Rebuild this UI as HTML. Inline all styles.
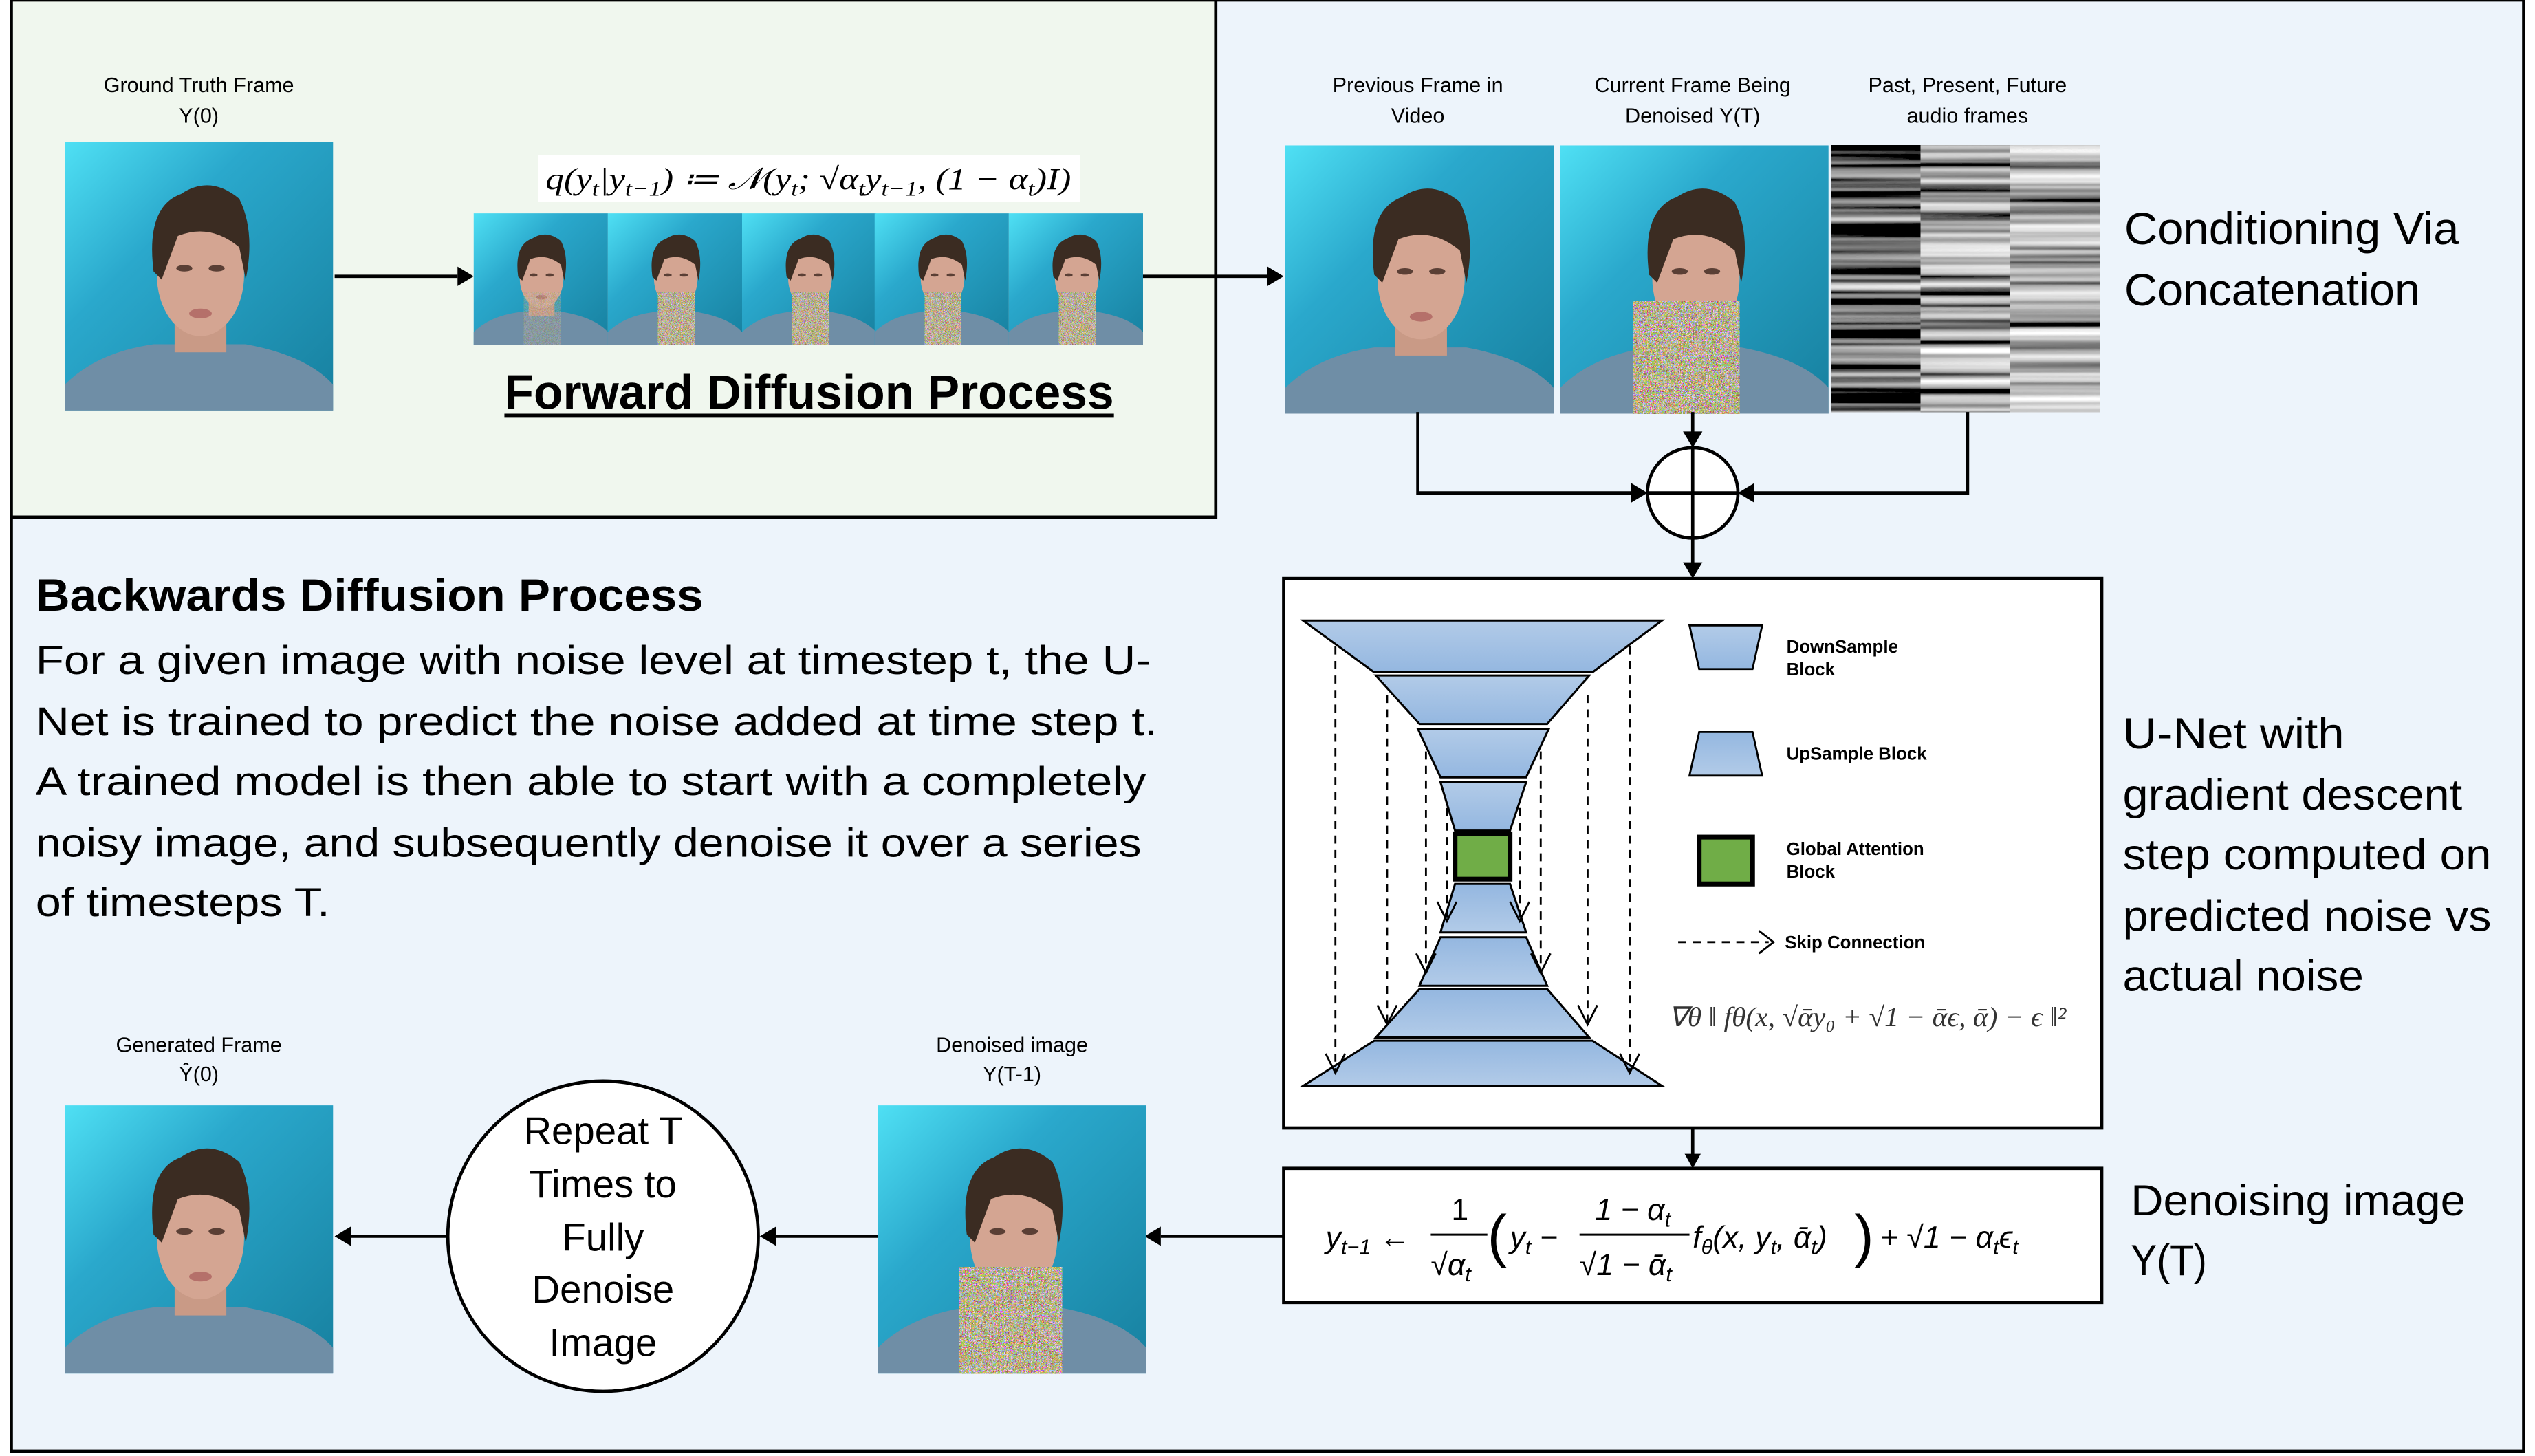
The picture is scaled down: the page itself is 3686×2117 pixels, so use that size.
<!DOCTYPE html>
<html><head><meta charset="utf-8"><style>
html,body{margin:0;padding:0;background:#fff;}
svg{display:block;}
text{font-family:"Liberation Sans",sans-serif;}
.c{font-family:"Liberation Sans","DejaVu Sans",sans-serif;}
.m{font-family:"Liberation Serif",serif;font-style:italic;}
</style></head><body>
<svg width="3686" height="2117" viewBox="0 0 1568 901" preserveAspectRatio="none" xmlns="http://www.w3.org/2000/svg">
<defs>
<linearGradient id="bg" x1="0" y1="0" x2="1" y2="1">
<stop offset="0" stop-color="#4fe0f4"/><stop offset="0.35" stop-color="#2aa8cc"/><stop offset="1" stop-color="#17809f"/></linearGradient>
<linearGradient id="blk" x1="0" y1="0" x2="0" y2="1">
<stop offset="0" stop-color="#b2cbe8"/><stop offset="1" stop-color="#94b7e0"/></linearGradient>
<linearGradient id="blk2" x1="0" y1="0" x2="0" y2="1">
<stop offset="0" stop-color="#94b7e0"/><stop offset="1" stop-color="#b2cbe8"/></linearGradient>
<filter id="noise" x="0" y="0" width="100%" height="100%">
<feTurbulence type="fractalNoise" baseFrequency="1.2" numOctaves="1" seed="3"/>
<feComponentTransfer><feFuncR type="discrete" tableValues="0.1 1 0.3 0.9 0.6"/><feFuncG type="discrete" tableValues="0.8 0.1 0.6 0.3 0.9"/><feFuncB type="discrete" tableValues="0.3 0.9 0.1 1 0.5"/><feFuncA type="linear" slope="0" intercept="1"/></feComponentTransfer>
</filter>
<filter id="a1" x="0" y="0" width="100%" height="100%">
<feTurbulence type="fractalNoise" baseFrequency="0.001 0.2" numOctaves="2" seed="7"/>
<feColorMatrix type="matrix" values="2 0 0 0 -0.85  2 0 0 0 -0.85  2 0 0 0 -0.85  0 0 0 0 1"/>
</filter>
<filter id="a2" x="0" y="0" width="100%" height="100%">
<feTurbulence type="fractalNoise" baseFrequency="0.001 0.2" numOctaves="2" seed="11"/>
<feColorMatrix type="matrix" values="2 0 0 0 -0.6  2 0 0 0 -0.6  2 0 0 0 -0.6  0 0 0 0 1"/>
</filter>
<filter id="a3" x="0" y="0" width="100%" height="100%">
<feTurbulence type="fractalNoise" baseFrequency="0.001 0.2" numOctaves="2" seed="19"/>
<feColorMatrix type="matrix" values="2 0 0 0 -0.5  2 0 0 0 -0.5  2 0 0 0 -0.5  0 0 0 0 1"/>
</filter>
<g id="face">
<rect x="0" y="0" width="166" height="166" fill="url(#bg)"/>
<path d="M0 166 L0 150 Q20 130 55 125 L112 125 Q150 132 166 150 L166 166 Z" fill="#6f8ea6"/>
<rect x="68" y="100" width="32" height="30" fill="#c99a86"/>
<ellipse cx="84" cy="82" rx="27" ry="38" fill="#d4a592"/>
<path d="M55 80 Q50 40 72 32 Q90 20 108 35 Q118 55 112 85 L108 65 Q90 50 70 58 L60 85 Z" fill="#3b2c22"/>
<ellipse cx="74" cy="78" rx="5" ry="2" fill="#5a3f35"/><ellipse cx="94" cy="78" rx="5" ry="2" fill="#5a3f35"/>
<ellipse cx="84" cy="106" rx="7" ry="3" fill="#b5706a"/>
</g>
</defs>
<rect x="7" y="0" width="1554" height="898" fill="#edf4fb" stroke="#000" stroke-width="2"/>
<rect x="7" y="0" width="745" height="320" fill="#f0f7ee" stroke="#000" stroke-width="2"/>

<text x="123" y="57" font-size="13" text-anchor="middle" class="c">Ground Truth Frame</text>
<text x="123" y="76" font-size="13" text-anchor="middle" class="c">Y(0)</text>
<g transform="translate(40,88)"><use href="#face"/></g>
<line x1="207" y1="171" x2="283" y2="171" stroke="#000" stroke-width="2"/><polygon points="283,165 293,171 283,177"/>
<rect x="333" y="96" width="335" height="29" fill="#fff"/>
<text x="500" y="117" font-size="19" text-anchor="middle" class="m" textLength="325" lengthAdjust="spacingAndGlyphs">q(y<tspan font-size="13" dy="4">t</tspan><tspan dy="-4">|y</tspan><tspan font-size="13" dy="4">t−1</tspan><tspan dy="-4">) ≔ 𝒩(y</tspan><tspan font-size="13" dy="4">t</tspan><tspan dy="-4">; √α</tspan><tspan font-size="13" dy="4">t</tspan><tspan dy="-4">y</tspan><tspan font-size="13" dy="4">t−1</tspan><tspan dy="-4">, (1 − α</tspan><tspan font-size="13" dy="4">t</tspan><tspan dy="-4">)I)</tspan></text>
<g transform="translate(293,132) scale(0.5,0.49)"><use href="#face"/><rect x="62" y="100" width="45" height="66" filter="url(#noise)" opacity="0.35"/></g>
<g transform="translate(376,132) scale(0.5,0.49)"><use href="#face"/><rect x="62" y="100" width="45" height="66" filter="url(#noise)"/></g>
<g transform="translate(459,132) scale(0.5,0.49)"><use href="#face"/><rect x="62" y="100" width="45" height="66" filter="url(#noise)"/></g>
<g transform="translate(541,132) scale(0.5,0.49)"><use href="#face"/><rect x="62" y="100" width="45" height="66" filter="url(#noise)"/></g>
<g transform="translate(624,132) scale(0.5,0.49)"><use href="#face"/><rect x="62" y="100" width="45" height="66" filter="url(#noise)"/></g>
<text x="312" y="253" font-size="30" font-weight="bold" class="c" textLength="377" lengthAdjust="spacingAndGlyphs">Forward Diffusion Process</text>
<rect x="312" y="256" width="377" height="2.5" fill="#000"/>
<line x1="707" y1="171" x2="784" y2="171" stroke="#000" stroke-width="2"/><polygon points="784,165 794,171 784,177"/>

<text x="877" y="57" font-size="13" text-anchor="middle" class="c">Previous Frame in</text>
<text x="877" y="76" font-size="13" text-anchor="middle" class="c">Video</text>
<text x="1047" y="57" font-size="13" text-anchor="middle" class="c">Current Frame Being</text>
<text x="1047" y="76" font-size="13" text-anchor="middle" class="c">Denoised Y(T)</text>
<text x="1217" y="57" font-size="13" text-anchor="middle" class="c">Past, Present, Future</text>
<text x="1217" y="76" font-size="13" text-anchor="middle" class="c">audio frames</text>
<g transform="translate(795,90)"><use href="#face"/></g>
<g transform="translate(965,90)"><use href="#face"/><rect x="45" y="96" width="66" height="70" filter="url(#noise)"/></g>
<rect x="1133" y="90" width="55" height="165" filter="url(#a1)"/>
<rect x="1188" y="90" width="55" height="165" filter="url(#a2)"/>
<rect x="1243" y="90" width="56" height="165" filter="url(#a3)"/>
<text x="1314" y="151" font-size="28" class="c" textLength="207" lengthAdjust="spacingAndGlyphs">Conditioning Via</text>
<text x="1314" y="189" font-size="28" class="c" textLength="183" lengthAdjust="spacingAndGlyphs">Concatenation</text>

<polyline points="877,255 877,305 1009,305" fill="none" stroke="#000" stroke-width="2"/><polygon points="1009,299 1019,305 1009,311"/>
<polyline points="1217,255 1217,305 1085,305" fill="none" stroke="#000" stroke-width="2"/><polygon points="1085,299 1075,305 1085,311"/>
<line x1="1047" y1="255" x2="1047" y2="269" stroke="#000" stroke-width="2"/><polygon points="1041,267 1047,277 1053,267"/>
<circle cx="1047" cy="305" r="28" fill="#fff" stroke="#000" stroke-width="2"/>
<line x1="1019" y1="305" x2="1075" y2="305" stroke="#000" stroke-width="2"/><line x1="1047" y1="277" x2="1047" y2="333" stroke="#000" stroke-width="2"/>
<line x1="1047" y1="333" x2="1047" y2="350" stroke="#000" stroke-width="2"/><polygon points="1041,348 1047,358 1053,348"/>

<rect x="794" y="358" width="506" height="340" fill="#fff" stroke="#000" stroke-width="2"/>
<g stroke="#000" stroke-width="1.3">
<polygon points="806,384 1028,384 985,416 850,416" fill="url(#blk)"/>
<polygon points="851,418 983,418 957,448 878,448" fill="url(#blk)"/>
<polygon points="877,451 958,451 944,481 891,481" fill="url(#blk)"/>
<polygon points="891,484 944,484 934,514 900,514" fill="url(#blk)"/>
<rect x="900" y="516" width="34" height="28" fill="#70ad47" stroke-width="3"/>
<polygon points="900,547 934,547 944,577 891,577" fill="url(#blk2)"/>
<polygon points="891,580 944,580 957,610 878,610" fill="url(#blk2)"/>
<polygon points="878,612 957,612 983,642 851,642" fill="url(#blk2)"/>
<polygon points="850,644 985,644 1028,672 806,672" fill="url(#blk2)"/>
</g>
<g stroke="#000" stroke-width="1.2" stroke-dasharray="5,4" fill="none">
<line x1="826" y1="400" x2="826" y2="664"/><line x1="1008" y1="400" x2="1008" y2="664"/>
<line x1="858" y1="430" x2="858" y2="634"/><line x1="982" y1="430" x2="982" y2="634"/>
<line x1="882" y1="465" x2="882" y2="602"/><line x1="953" y1="465" x2="953" y2="602"/>
<line x1="895" y1="500" x2="895" y2="570"/><line x1="940" y1="500" x2="940" y2="570"/>
</g>
<g stroke="#000" stroke-width="1.2" fill="none">
<polyline points="820,652 826,664 832,652"/><polyline points="1002,652 1008,664 1014,652"/>
<polyline points="852,622 858,634 864,622"/><polyline points="976,622 982,634 988,622"/>
<polyline points="876,590 882,602 888,590"/><polyline points="947,590 953,602 959,590"/>
<polyline points="889,558 895,570 901,558"/><polyline points="934,558 940,570 946,558"/>
</g>
<polygon points="1045,387 1090,387 1084,414 1051,414" fill="url(#blk)" stroke="#000" stroke-width="1.2"/>
<text x="1105" y="404" font-size="11" font-weight="bold" class="c">DownSample</text>
<text x="1105" y="418" font-size="11" font-weight="bold" class="c">Block</text>
<polygon points="1051,453 1084,453 1090,480 1045,480" fill="url(#blk2)" stroke="#000" stroke-width="1.2"/>
<text x="1105" y="470" font-size="11" font-weight="bold" class="c">UpSample Block</text>
<rect x="1051" y="518" width="33" height="29" fill="#70ad47" stroke="#000" stroke-width="3"/>
<text x="1105" y="529" font-size="11" font-weight="bold" class="c">Global Attention</text>
<text x="1105" y="543" font-size="11" font-weight="bold" class="c">Block</text>
<line x1="1038" y1="583" x2="1094" y2="583" stroke="#000" stroke-width="1.2" stroke-dasharray="5,4"/>
<polyline points="1088,576 1097,583 1088,590" fill="none" stroke="#000" stroke-width="1.2"/>
<text x="1104" y="587" font-size="11" font-weight="bold" class="c">Skip Connection</text>
<text x="1032" y="635" font-size="17" class="m" fill="#333" textLength="246" lengthAdjust="spacingAndGlyphs">∇θ ‖ fθ(x, √ᾱy₀ + √1 − ᾱϵ, ᾱ) − ϵ ‖²</text>

<text x="22" y="378" font-size="28" font-weight="bold" class="c" textLength="413" lengthAdjust="spacingAndGlyphs">Backwards Diffusion Process</text>
<g font-size="25" class="c">
<text x="22" y="417" textLength="690" lengthAdjust="spacingAndGlyphs">For a given image with noise level at timestep t, the U-</text>
<text x="22" y="455" textLength="694" lengthAdjust="spacingAndGlyphs">Net is trained to predict the noise added at time step t.</text>
<text x="22" y="492" textLength="687" lengthAdjust="spacingAndGlyphs">A trained model is then able to start with a completely</text>
<text x="22" y="530" textLength="684" lengthAdjust="spacingAndGlyphs">noisy image, and subsequently denoise it over a series</text>
<text x="22" y="567" textLength="182" lengthAdjust="spacingAndGlyphs">of timesteps T.</text>
</g>
<g font-size="27" class="c">
<text x="1313" y="463" textLength="137" lengthAdjust="spacingAndGlyphs">U-Net with</text>
<text x="1313" y="501" textLength="210" lengthAdjust="spacingAndGlyphs">gradient descent</text>
<text x="1313" y="538" textLength="228" lengthAdjust="spacingAndGlyphs">step computed on</text>
<text x="1313" y="576" textLength="228" lengthAdjust="spacingAndGlyphs">predicted noise vs</text>
<text x="1313" y="613" textLength="149" lengthAdjust="spacingAndGlyphs">actual noise</text>
</g>

<line x1="1047" y1="698" x2="1047" y2="715" stroke="#000" stroke-width="2"/><polygon points="1042,714 1047,723 1052,714"/>
<rect x="794" y="723" width="506" height="83" fill="#fff" stroke="#000" stroke-width="2"/>
<g class="m" font-size="19">
<text x="820" y="772">y<tspan font-size="13" dy="4">t−1</tspan><tspan dy="-4"> ←</tspan></text>
<text x="903" y="755" text-anchor="middle" font-style="normal">1</text>
<line x1="885" y1="764" x2="920" y2="764" stroke="#000" stroke-width="1.3"/>
<text x="885" y="789">√α<tspan font-size="13" dy="4">t</tspan></text>
<text x="920" y="777" font-size="36" font-style="normal">(</text>
<text x="934" y="772">y<tspan font-size="13" dy="4">t</tspan><tspan dy="-4"> −</tspan></text>
<text x="1010" y="755" text-anchor="middle">1 − α<tspan font-size="13" dy="4">t</tspan></text>
<line x1="977" y1="764" x2="1045" y2="764" stroke="#000" stroke-width="1.3"/>
<text x="977" y="789">√1 − ᾱ<tspan font-size="13" dy="4">t</tspan></text>
<text x="1047" y="772">f<tspan font-size="13" dy="4">θ</tspan><tspan dy="-4">(x, y</tspan><tspan font-size="13" dy="4">t</tspan><tspan dy="-4">, ᾱ</tspan><tspan font-size="13" dy="4">t</tspan><tspan dy="-4">)</tspan></text>
<text x="1147" y="777" font-size="36" font-style="normal">)</text>
<text x="1163" y="772">+ √1 − α<tspan font-size="13" dy="4">t</tspan><tspan dy="-4">ϵ</tspan><tspan font-size="13" dy="4">t</tspan></text>
</g>
<text x="1318" y="752" font-size="27" class="c" textLength="207" lengthAdjust="spacingAndGlyphs">Denoising image</text>
<text x="1318" y="789" font-size="27" class="c" textLength="47" lengthAdjust="spacingAndGlyphs">Y(T)</text>

<line x1="794" y1="765" x2="718" y2="765" stroke="#000" stroke-width="2"/><polygon points="718,759 708,765 718,771"/>
<text x="626" y="651" font-size="13" text-anchor="middle" class="c">Denoised image</text>
<text x="626" y="669" font-size="13" text-anchor="middle" class="c">Y(T-1)</text>
<g transform="translate(543,684)"><use href="#face"/><rect x="50" y="100" width="64" height="66" filter="url(#noise)"/></g>
<line x1="543" y1="765" x2="480" y2="765" stroke="#000" stroke-width="2"/><polygon points="480,759 470,765 480,771"/>
<circle cx="373" cy="765" r="96" fill="#fff" stroke="#000" stroke-width="2"/>
<g font-size="24" text-anchor="middle" class="c">
<text x="373" y="708">Repeat T</text>
<text x="373" y="741">Times to</text>
<text x="373" y="774">Fully</text>
<text x="373" y="806">Denoise</text>
<text x="373" y="839">Image</text>
</g>
<line x1="277" y1="765" x2="217" y2="765" stroke="#000" stroke-width="2"/><polygon points="217,759 207,765 217,771"/>
<text x="123" y="651" font-size="13" text-anchor="middle" class="c">Generated Frame</text>
<text x="123" y="669" font-size="13" text-anchor="middle" class="c">Ŷ(0)</text>
<g transform="translate(40,684)"><use href="#face"/></g>
</svg>
</body></html>
